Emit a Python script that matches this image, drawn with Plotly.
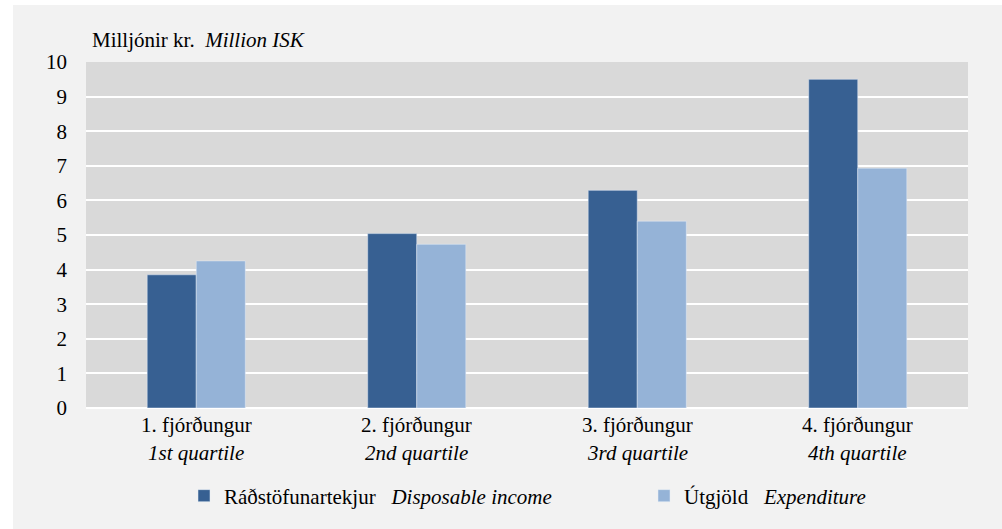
import plotly.graph_objects as go

categories = ["1. fjórðungur", "2. fjórðungur", "3. fjórðungur", "4. fjórðungur"]
categories_en = ["1st quartile", "2nd quartile", "3rd quartile", "4th quartile"]
income = [3.85, 5.04, 6.29, 9.5]
expenditure = [4.25, 4.73, 5.40, 6.93]
series_names = ["Ráðstöfunartekjur&nbsp;&nbsp;&nbsp;<i>Disposable income</i>",
                "Útgjöld&nbsp;&nbsp;&nbsp;<i>Expenditure</i>"]
y_ticks = list(range(0, 11))

FONT = "Liberation Serif"
FS = 21

fig = go.Figure()
fig.add_trace(go.Bar(x=categories, y=income, name=series_names[0], marker_color="#376092",
                     legend="legend"))
fig.add_trace(go.Bar(x=categories, y=expenditure, name=series_names[1], marker_color="#95B3D7",
                     legend="legend2"))

L, R, T, B = 86, 34, 62, 121
W, H = 1002, 529
pw, ph = W - L - R, H - T - B

# background panel
fig.add_shape(type="rect", xref="paper", yref="paper",
              x0=(13 - L) / pw, x1=(W - L) / pw,
              y0=(T + ph - H) / ph, y1=(T + ph - 5) / ph,
              fillcolor="#F2F2F2", line_width=0, layer="below")
# plot area
fig.add_shape(type="rect", xref="paper", yref="paper", x0=0, x1=1, y0=0, y1=1,
              fillcolor="#D9D9D9", line_width=0, layer="below")

for i, (c, e) in enumerate(zip(categories, categories_en)):
    fig.add_annotation(x=c, y=0, xref="x", yref="paper", text=c, showarrow=False,
                       yanchor="middle", yshift=-17, font=dict(size=FS, family=FONT, color="black"))
    fig.add_annotation(x=c, y=0, xref="x", yref="paper", text="<i>" + e + "</i>", showarrow=False,
                       yanchor="middle", yshift=-45, font=dict(size=FS, family=FONT, color="black"))

fig.add_annotation(x=(90 - L) / pw, y=1, xref="paper", yref="paper", xanchor="left", yanchor="middle",
                   yshift=22, showarrow=False, text="Milljónir kr.&nbsp;&nbsp;<i>Million ISK</i>",
                   font=dict(size=FS, family=FONT, color="black"))

leg_common = dict(orientation="h", xanchor="left", xref="container", yref="container",
                  y=(H - 496) / H, yanchor="middle", bgcolor="rgba(0,0,0,0)",
                  itemwidth=30, font=dict(size=FS, family=FONT, color="black"))

fig.update_layout(
    width=W, height=H,
    margin=dict(l=L, r=R, t=T, b=B),
    paper_bgcolor="white",
    plot_bgcolor="#D9D9D9",
    font=dict(family=FONT, size=FS, color="black"),
    barmode="group",
    bargap=0.555,
    bargroupgap=0,
    showlegend=True,
    legend=dict(x=184 / W, **leg_common),
    legend2=dict(x=644 / W, **leg_common),
    xaxis=dict(showticklabels=False, showgrid=False, zeroline=False, showline=False),
    yaxis=dict(range=[0, 10], tickvals=y_ticks, showgrid=True, gridcolor="white", gridwidth=2,
               zeroline=True, zerolinecolor="white", zerolinewidth=2, showline=False,
               ticklabelstandoff=18, tickfont=dict(size=FS, family=FONT)),
)

fig.write_html("out.html", post_script="document.body.style.margin='0';",
               config={"displayModeBar": False})
